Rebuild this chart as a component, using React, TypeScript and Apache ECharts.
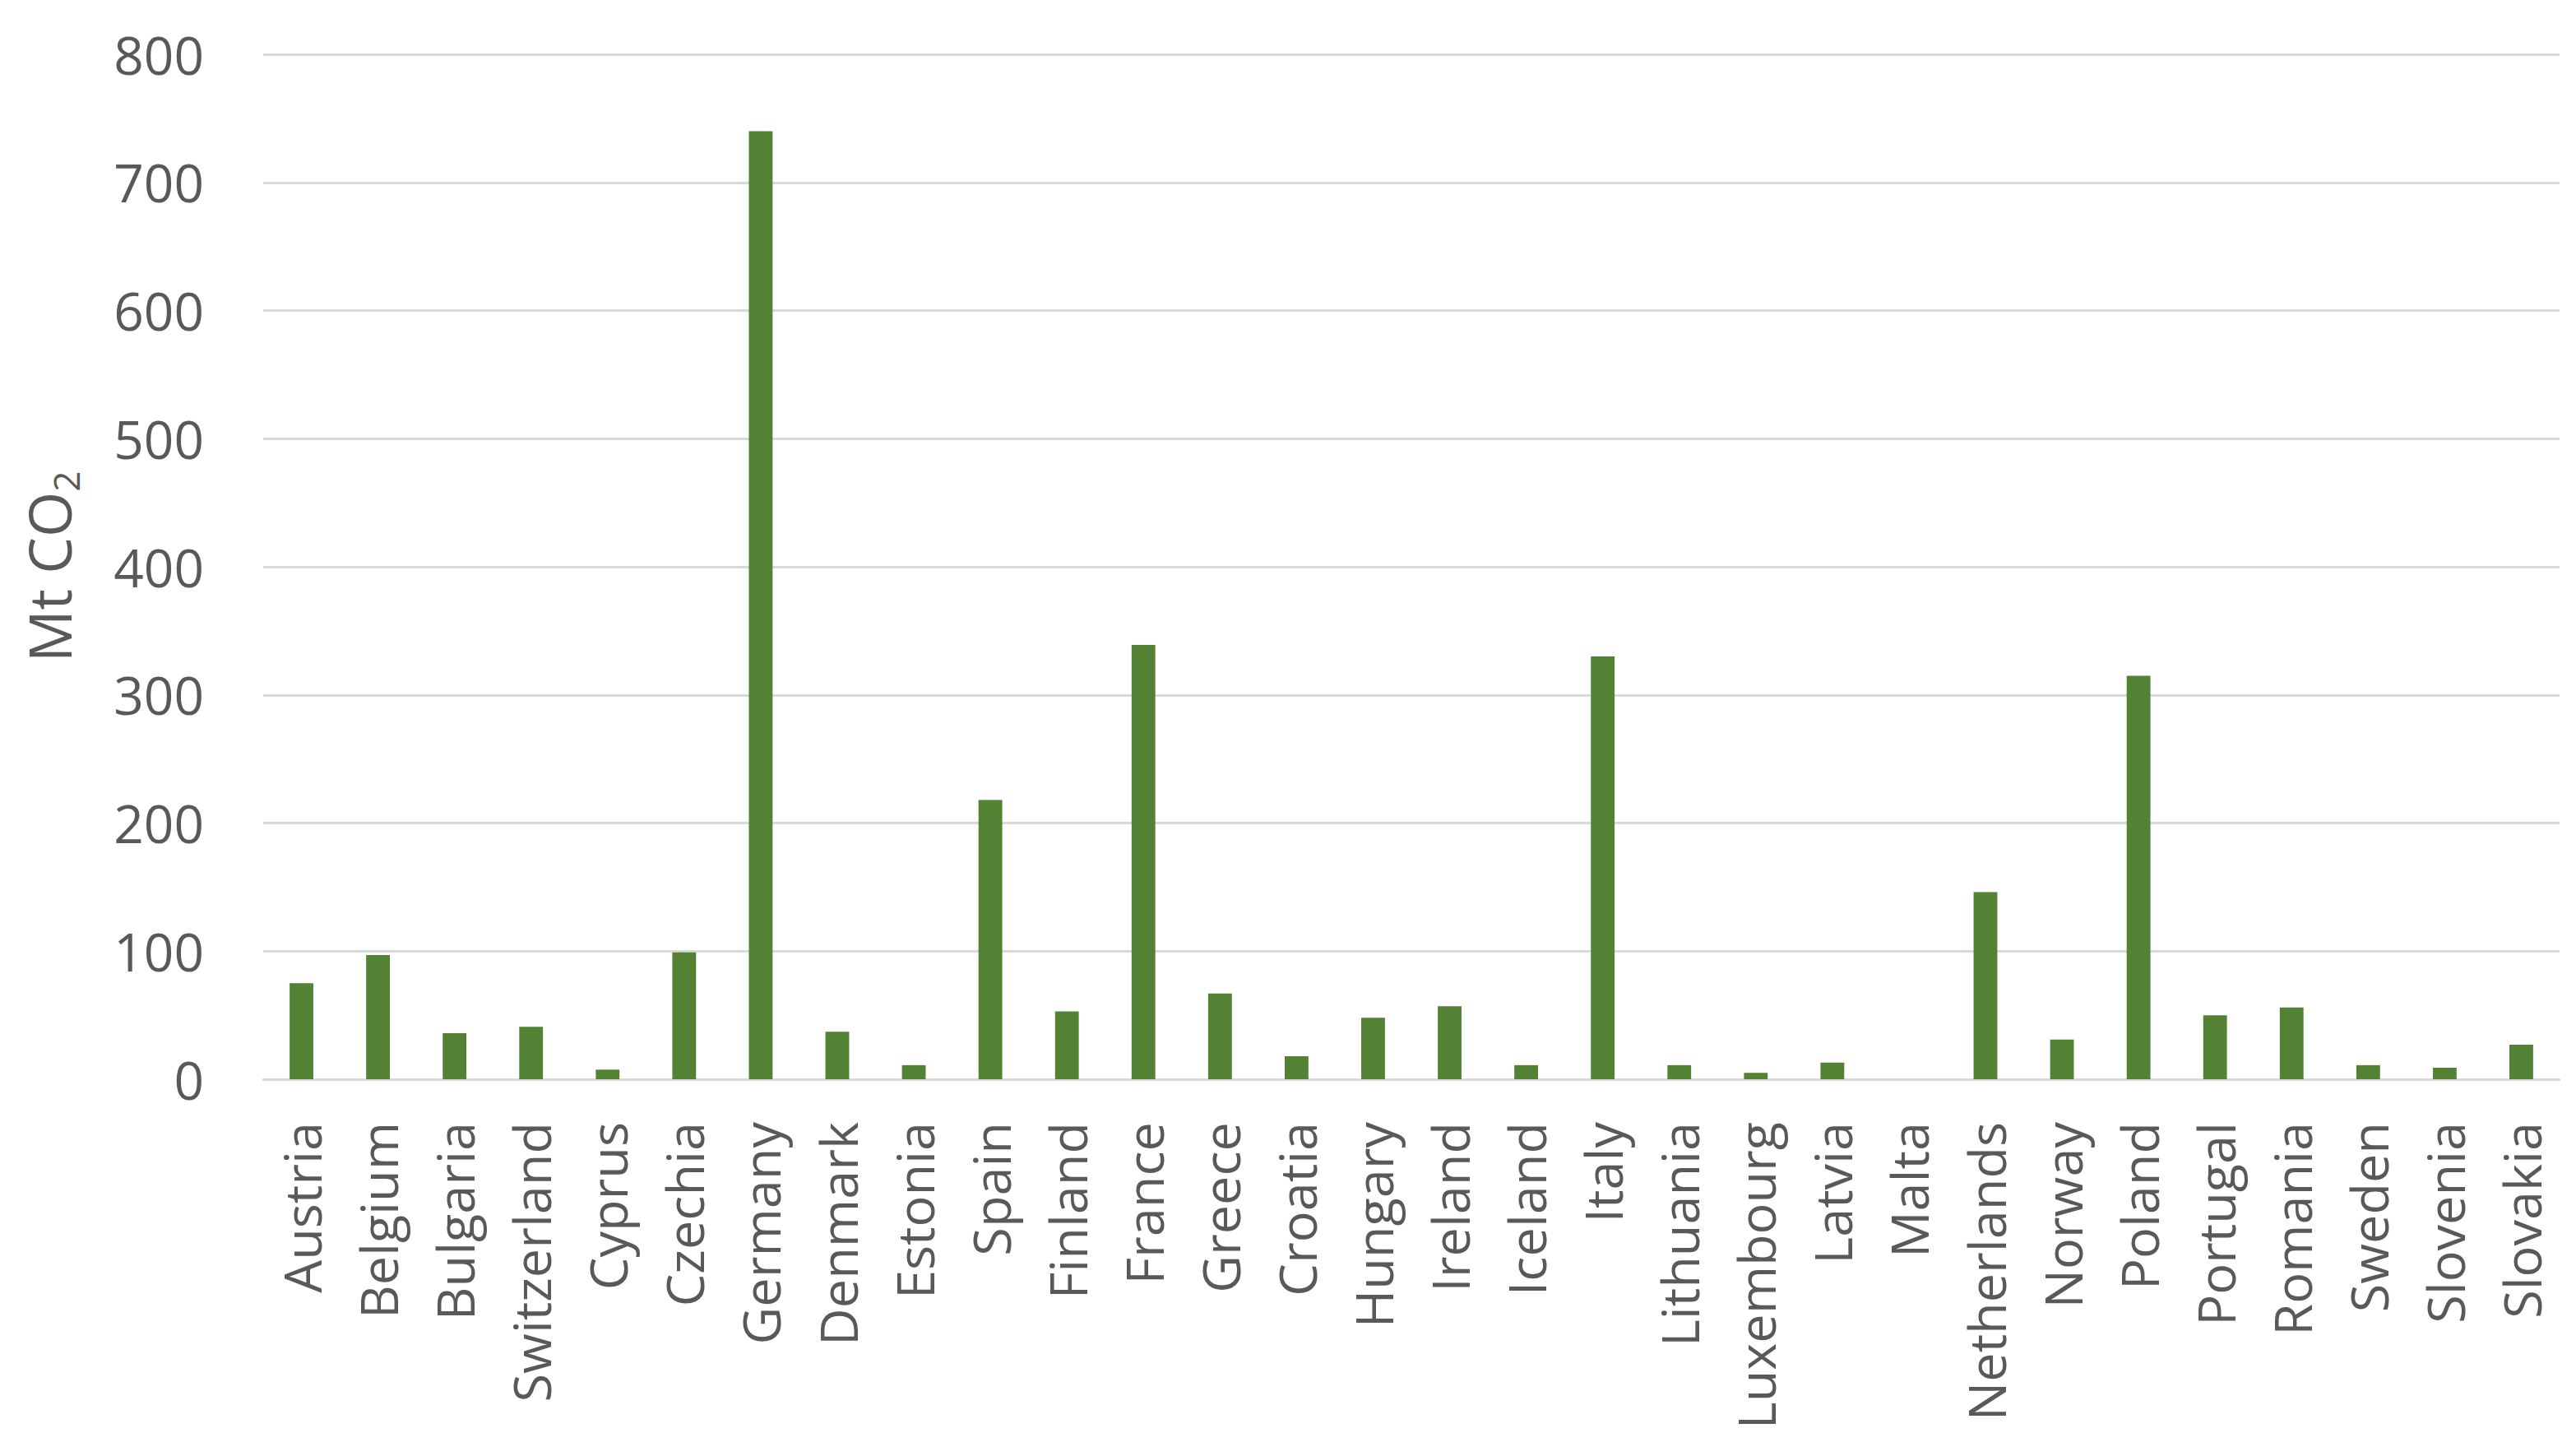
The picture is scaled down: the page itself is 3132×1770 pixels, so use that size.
import React, { useEffect, useRef } from "react";
import * as echarts from "echarts";

const countries: string[] = [
  "Austria", "Belgium", "Bulgaria", "Switzerland", "Cyprus", "Czechia", "Germany",
  "Denmark", "Estonia", "Spain", "Finland", "France", "Greece", "Croatia", "Hungary",
  "Ireland", "Iceland", "Italy", "Lithuania", "Luxembourg", "Latvia", "Malta",
  "Netherlands", "Norway", "Poland", "Portugal", "Romania", "Sweden", "Slovenia", "Slovakia",
];

const emissions: number[] = [
  75, 97, 36, 41, 7.5, 99, 740,
  37, 11, 218, 53, 339, 67, 18, 48,
  57, 11, 330, 11, 5, 13, 0,
  146, 31, 315, 50, 56, 11, 9, 27,
];

const yTicks = { min: 0, max: 800, interval: 100 };

const TEXT = "#595959";
const GRID = "#d9d9d9";
const BAR = "#548235";

export default function App() {
  const ref = useRef<HTMLDivElement>(null);

  useEffect(() => {
    document.body.style.margin = "0";
    if (!ref.current) return;
    const chart = echarts.init(ref.current, undefined, { renderer: "svg" });
    chart.setOption({
      animation: false,
      backgroundColor: "#ffffff",
      grid: { left: 320, right: 20, top: 66, bottom: 458, containLabel: false },
      xAxis: {
        type: "category",
        data: countries,
        axisLine: { show: true, lineStyle: { color: GRID, width: 3 } },
        axisTick: { show: false },
        axisLabel: {
          rotate: 90,
          interval: 0,
          margin: 52,
          color: TEXT,
          fontFamily: "Open Sans",
          fontSize: 63,
        },
      },
      yAxis: {
        type: "value",
        min: yTicks.min,
        max: yTicks.max,
        interval: yTicks.interval,
        axisLine: { show: false },
        axisTick: { show: false },
        splitLine: { lineStyle: { color: GRID, width: 3 } },
        axisLabel: {
          margin: 72,
          color: TEXT,
          fontFamily: "Open Sans",
          fontSize: 64,
        },
        name: "{a|Mt CO}{b|2}",
        nameLocation: "middle",
        nameRotate: 90,
        nameGap: 218,
        nameTextStyle: {
          color: TEXT,
          fontFamily: "Open Sans",
          rich: {
            a: { fontSize: 71, color: TEXT, fontFamily: "Open Sans", lineHeight: 86 },
            b: {
              fontSize: 44,
              color: TEXT,
              fontFamily: "Open Sans",
              verticalAlign: "bottom",
              lineHeight: 44,
            },
          },
        },
      },
      series: [
        {
          type: "bar",
          data: emissions,
          barWidth: "31%",
          itemStyle: { color: BAR },
        },
      ],
    });
    return () => chart.dispose();
  }, []);

  return <div ref={ref} style={{ width: 3132, height: 1770 }} />;
}
